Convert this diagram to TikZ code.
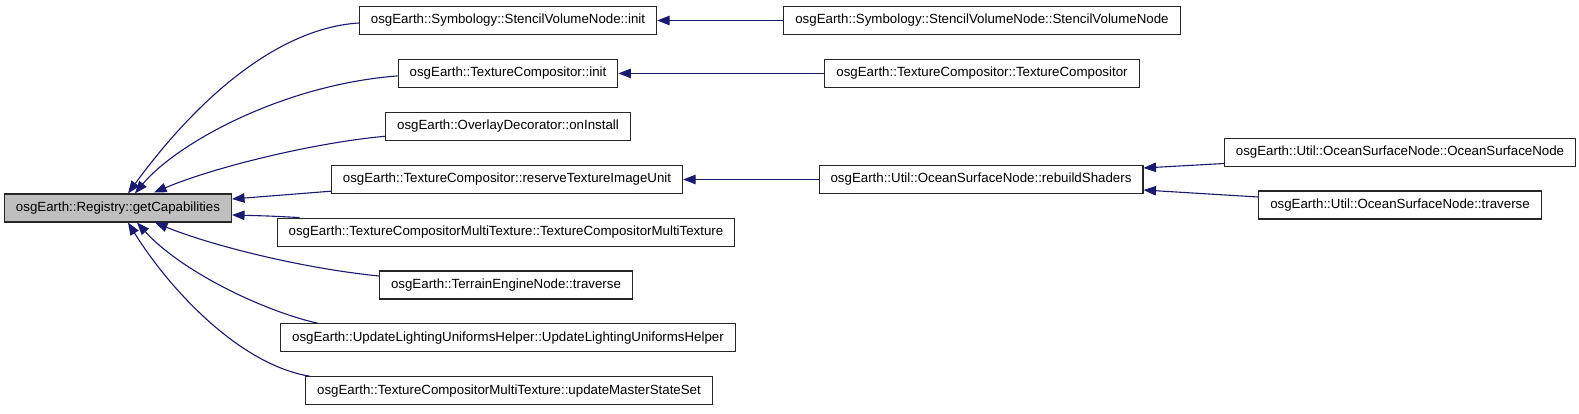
\documentclass[tikz,border=0pt]{standalone}
\usepackage{fontspec}
\setmainfont{Liberation Sans}
\usetikzlibrary{arrows.meta}
\definecolor{callblue}{HTML}{191970}
\definecolor{selgray}{HTML}{BFBFBF}

\begin{document}
\begin{tikzpicture}[x=1pt,y=-1pt,
    fn/.style={draw=black!85, line width=1.1pt, fill=white, rectangle,
      minimum height=28pt, inner xsep=11.5pt,
      font=\fontsize{13.3}{15}\selectfont},
    callee/.style={fn, fill=selgray},
    call/.style={callblue, line width=1.1pt, -{Triangle[length=12.5pt,width=9.5pt]}}]
    \useasboundingbox (0,0) rectangle (1579,413);

    % Function boxes
    \node[callee] (cap) at (118,208) {osgEarth::Registry::getCapabilities};

    \node[fn] (svninit)  at (508,20.5)  {osgEarth::Symbology::StencilVolumeNode::init};
    \node[fn] (tcinit)   at (508,73.4)  {osgEarth::TextureCompositor::init};
    \node[fn] (overlay)  at (508,126.3) {osgEarth::OverlayDecorator::onInstall};
    \node[fn] (reserve)  at (507,179.2) {osgEarth::TextureCompositor::reserveTextureImageUnit};
    \node[fn] (tcmt)     at (506,232.1) {osgEarth::TextureCompositorMultiTexture::TextureCompositorMultiTexture};
    \node[fn] (terrain)  at (506,285)   {osgEarth::TerrainEngineNode::traverse};
    \node[fn] (updlight) at (508,337.9) {osgEarth::UpdateLightingUniformsHelper::UpdateLightingUniformsHelper};
    \node[fn] (updmast)  at (509,390.8) {osgEarth::TextureCompositorMultiTexture::updateMasterStateSet};

    \node[fn] (svnctor)  at (982,20.5)  {osgEarth::Symbology::StencilVolumeNode::StencilVolumeNode};
    \node[fn] (tcctor)   at (982,73.4)  {osgEarth::TextureCompositor::TextureCompositor};
    \node[fn] (rebuild)  at (981,179.5) {osgEarth::Util::OceanSurfaceNode::rebuildShaders};

    \node[fn] (osnctor)  at (1400,152.5) {osgEarth::Util::OceanSurfaceNode::OceanSurfaceNode};
    \node[fn] (osntrav)  at (1400,205)   {osgEarth::Util::OceanSurfaceNode::traverse};

    % Callers of getCapabilities
    \draw[call] ([yshift=-2.5pt]svninit.west) .. controls (280,28) and (200,95) .. ([xshift=10pt]cap.north);
    \draw[call] ([yshift=-2.5pt]tcinit.west) .. controls (280,85) and (175,145) .. ([xshift=17pt]cap.north);
    \draw[call] ([yshift=-10pt]overlay.west) .. controls (320,142) and (220,165) .. ([xshift=36pt,yshift=1pt]cap.north);
    \draw[call] ([yshift=-12pt]reserve.west) -- ([yshift=9pt]cap.east);
    \draw[call] ([xshift=23pt]tcmt.north west) .. controls (270,216) .. ([yshift=-7pt]cap.east);
    \draw[call] ([yshift=9pt]terrain.west) .. controls (300,268) and (210,245) .. ([xshift=37pt]cap.south);
    \draw[call] ([xshift=38pt]updlight.north west) .. controls (260,310) and (180,270) .. ([xshift=19pt]cap.south);
    \draw[call] ([xshift=5pt]updmast.north west) .. controls (240,365) and (170,290) .. ([xshift=10pt]cap.south);

    % Second level callers
    \draw[call] (svnctor.west) -- (svninit.east);
    \draw[call] (tcctor.west) -- (tcinit.east);
    \draw[call] (rebuild.west) -- (rebuild.west -| reserve.east);
    \draw[call] ([yshift=-11pt]osnctor.west) -- ([yshift=11.5pt]rebuild.east);
    \draw[call] ([yshift=8pt]osntrav.west) -- ([yshift=-10.5pt]rebuild.east);
\end{tikzpicture}
\end{document}
